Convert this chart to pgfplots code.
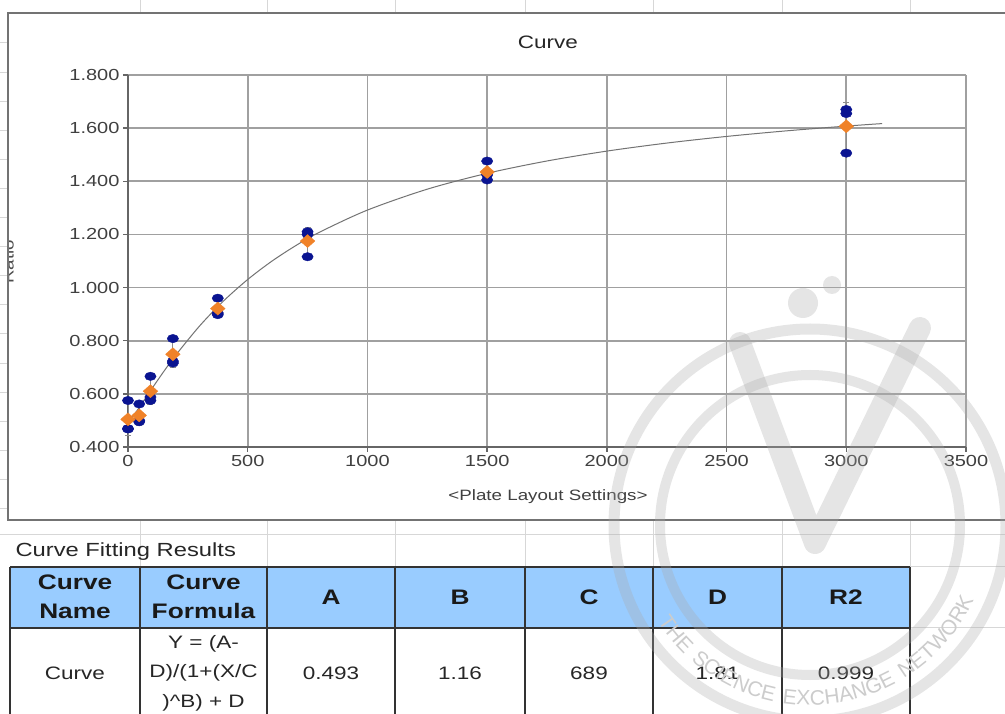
\documentclass[border=0pt]{standalone}
\usepackage{fontspec}
\setmainfont{Liberation Sans}[FakeStretch=1.25]
\newfontfamily\wmfont{Liberation Sans}[LetterSpace=14]
\usepackage{pgfplots}
\pgfplotsset{compat=1.18}
\usetikzlibrary{decorations.text}
\definecolor{ptblue}{RGB}{10,20,145}
\definecolor{ptorange}{RGB}{240,130,40}
\definecolor{hdrblue}{RGB}{153,204,255}
\definecolor{gridgray}{RGB}{160,160,160}
\definecolor{sheetgray}{RGB}{215,215,215}
\definecolor{wm}{RGB}{170,170,170}

\pgfplotstableread{
x y
0 0.575
0 0.469
0 0.468
46.875 0.562
46.875 0.495
46.875 0.500
93.75 0.666
93.75 0.575
93.75 0.588
187.5 0.808
187.5 0.716
187.5 0.723
375 0.960
375 0.898
375 0.904
750 1.210
750 1.200
750 1.116
1500 1.476
1500 1.405
1500 1.424
3000 1.670
3000 1.655
3000 1.506
}\replicates

\pgfplotstableread{
x y e
0 0.504 0.061
46.875 0.519 0.037
93.75 0.610 0.049
187.5 0.749 0.051
375 0.921 0.034
750 1.175 0.052
1500 1.435 0.037
3000 1.607 0.090
}\means

\pgfplotstableread{
x y
0 0.4930
25 0.5205
50 0.5530
100 0.6199
150 0.6849
200 0.7463
300 0.8565
400 0.9504
500 1.0304
600 1.0988
700 1.1575
800 1.2084
1000 1.2916
1250 1.3703
1500 1.4300
1750 1.4764
2000 1.5136
2250 1.5438
2500 1.5688
2750 1.5898
3000 1.6077
3150 1.6172
}\fitcurve

\begin{document}
\begin{tikzpicture}[x=1pt,y=1pt]
\useasboundingbox (0,0) rectangle (1005,713);
\fill[white] (0,0) rectangle (1005,713);

% spreadsheet grid peeking out
\foreach \xx in {140,267,395,525,653,782,910}{
  \draw[sheetgray, line width=1pt] (\xx,713) -- (\xx,700);
  \draw[sheetgray, line width=1pt] (\xx,193) -- (\xx,146);
}
\foreach \k in {0,...,16}{
  \draw[sheetgray, line width=1pt] (0,{713-43-29.1*\k}) -- (8,{713-43-29.1*\k});
}
\draw[sheetgray, line width=1pt] (0,178) -- (1005,178);
\draw[sheetgray, line width=1pt] (910,146) -- (1005,146);
\draw[sheetgray, line width=1pt] (910,85) -- (1005,85);

% chart frame
\draw[black!55, line width=2pt] (1010,700) -- (8,700) -- (8,193) -- (1010,193);

% y label (clipped by frame)
\begin{scope}
\clip (9,194) rectangle (1005,699);
\node[rotate=90, anchor=base, text=black!70, font=\fontsize{15}{18}\selectfont] at (13.5,451) {Ratio};
\end{scope}

% title and x label
\node[text=black!85, font=\fontsize{18}{21}\selectfont] at (548,671) {Curve};
\node[text=black!75, font=\fontsize{15}{18}\selectfont] at (548,216) {<Plate Layout Settings>};

\begin{axis}[
  at={(128pt,266pt)}, anchor=south west, scale only axis,
  width=838pt, height=372pt,
  xmin=0, xmax=3500, ymin=0.4, ymax=1.8,
  xtick={0,500,1000,1500,2000,2500,3000,3500},
  ytick={0.4,0.6,0.8,1.0,1.2,1.4,1.6,1.8},
  grid=major, grid style={gridgray, line width=1.7pt},
  axis x line*=bottom, axis y line*=left,
  axis line style={black!60, line width=2pt},
  tick align=outside, major tick length=5pt,
  tick style={black!60, line width=1.3pt},
  ticklabel style={font=\fontsize{16}{19}\selectfont, text=black!75},
  /pgf/number format/assume math mode=true,
  y tick label style={/pgf/number format/.cd, fixed, fixed zerofill, precision=3},
  x tick label style={/pgf/number format/.cd, fixed, 1000 sep={}},
  clip=false,
]
\addplot[black!55, line width=1pt, mark=none, smooth] table[x=x,y=y] {\fitcurve};
\addplot[only marks, mark=none, forget plot,
  error bars/.cd, y dir=both, y explicit,
  error bar style={black!45, line width=0.8pt},
  error mark options={black!45, line width=0.8pt, mark size=3pt, rotate=90}]
  table[x=x, y=y, y error=e] {\means};
\addplot[only marks, mark=*, mark size=4.2pt,
  mark options={fill=ptblue, draw=ptblue, xscale=1.35}] table[x=x,y=y] {\replicates};
\addplot[only marks, mark=diamond*, mark size=6.5pt,
  mark options={fill=ptorange, draw=ptorange, xscale=1.5}] table[x=x,y=y] {\means};
\end{axis}

% results table
\node[anchor=base west, text=black!85, font=\fontsize{19}{22}\selectfont] at (12,156) {Curve Fitting Results};
\fill[hdrblue] (10,146) rectangle (910,85);
\draw[black!80, line width=1.2pt] (10,146) -- (910,146);
\draw[black!80, line width=1.2pt] (10,85) -- (910,85);
\foreach \xx in {10,140,267,395,525,653,782,910}{
  \draw[black!80, line width=1.2pt] (\xx,146) -- (\xx,-5);
}
\begin{scope}[every node/.style={align=center, text=black!90, font=\bfseries\fontsize{21}{29}\selectfont}]
\node at (75,116) {Curve\\Name};
\node at (203.5,116) {Curve\\Formula};
\node at (331,116) {A};
\node at (460,116) {B};
\node at (589,116) {C};
\node at (717.5,116) {D};
\node at (846,116) {R2};
\end{scope}
\begin{scope}[every node/.style={align=center, text=black!85, font=\fontsize{18}{29.5}\selectfont}]
\node at (75,40) {Curve};
\node at (203.5,40) {Y = (A-\\D)/(1+(X/C\\)\textasciicircum B) + D};
\node at (331,40) {0.493};
\node at (460,40) {1.16};
\node at (589,40) {689};
\node at (717.5,40) {1.81};
\node at (846,40) {0.999};
\end{scope}

% watermark (approximate)
\begin{scope}[opacity=0.3]
\draw[wm, line width=11pt] (810,188) circle[radius=196];
\draw[wm, line width=10pt] (810,188) circle[radius=150];
\draw[wm, line width=22pt, line cap=round, line join=round] (740,370) -- (815,170) -- (920,385);
\fill[wm] (803,410) circle[radius=15];
\fill[wm] (832,428) circle[radius=9];
\end{scope}
\path[decorate, decoration={text along path, text align=center,
  text={|\wmfont\fontsize{21}{21}\selectfont\color{black!20}|THE SCIENCE EXCHANGE NETWORK}}]
  (810,188) ++(192:180) arc[start angle=192, end angle=356, radius=180];
\end{tikzpicture}
\end{document}
